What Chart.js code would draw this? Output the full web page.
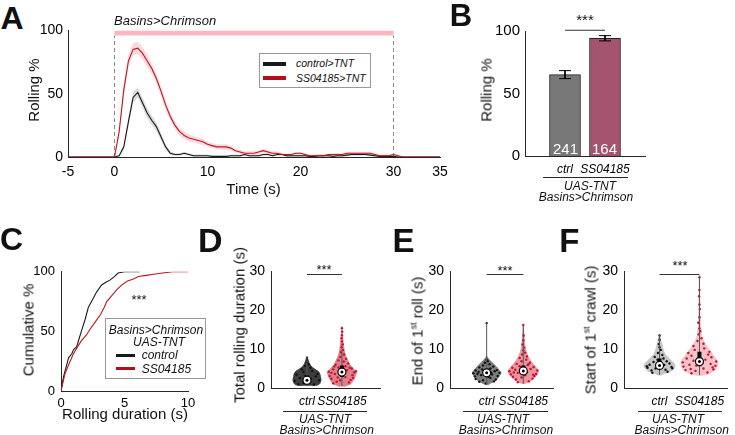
<!DOCTYPE html>
<html>
<head>
<meta charset="utf-8">
<script src="https://cdn.jsdelivr.net/npm/chart.js@4"></script>
<style>
  body { margin: 0; width: 735px; height: 435px; position: relative; overflow: hidden; background: #fff;
         font-family: "Liberation Sans", Arial, Helvetica, sans-serif; font-weight: 400; }
  .pane { position: absolute; }
  .t { position: absolute; white-space: nowrap; line-height: 1; color: #111; font-weight: 400; }
  .rule { position: absolute; height: 1px; background: #262626; }
  .leg { position: absolute; border: 1px solid #999; background: #fff; box-sizing: border-box; }
</style>
</head>
<body>
<script>
// ---- A: rolling probability over time (sampled every 0.5 s, -5..35 s)
const time = Array.from({ length: 81 }, (_, i) => -5 + i * 0.5);
const ctrlRoll = [
  0, 0, 0, 0, 0, 0, 0, 0, 0, 0,
  0, 1, 8, 28, 47, 51, 43, 35, 29, 24,
  16, 8, 3, 2, 2, 3, 2, 1, 1, 1,
  1, 0.5, 0.5, 0.5, 0.5, 1, 1, 1, 2, 1,
  1, 1, 2, 2, 1, 2, 2, 1, 1, 1,
  1, 1, 0.5, 0.5, 1, 1, 1, 0.5, 1, 1,
  1.5, 2, 2, 2, 2, 1.5, 1, 0.5, 0.5, 0.5,
  0.5, 0, 0, 0, 0, 0, 0, 0, 0, 0,
  0
];
const ssRoll = [
  0, 0, 0, 0, 0, 0, 0, 0, 0, 0,
  0, 20, 53, 76, 85, 86, 82, 76, 70, 62,
  52, 41, 32, 25, 20, 17, 15, 14, 13, 12,
  10, 9, 8, 8, 8, 7, 5, 4, 3, 3,
  3, 4, 5, 4, 3, 3, 2, 2, 2, 3,
  3, 2, 1, 1, 1, 1, 2, 2, 2, 2,
  3, 3, 3, 3, 3, 3, 2, 1, 1, 1,
  2, 1, 0, 0, 0, 0, 0, 0, 0, 0,
  0
];
const ctrlSem = [
  0, 0, 0, 0, 0, 0, 0, 0, 0, 0,
  0, 0.5, 2, 4, 4, 4, 4, 4, 3.5, 3.5,
  3, 2, 1.5, 1, 1, 1, 1, 1, 1, 1,
  1, 0.5, 0.5, 0.5, 0.5, 1, 1, 1, 1, 1,
  1, 1, 1, 1, 1, 1, 1, 1, 1, 1,
  1, 1, 0.5, 0.5, 1, 1, 1, 0.5, 1, 1,
  1, 1, 1, 1, 1, 1, 1, 0.5, 0.5, 0.5,
  0.5, 0, 0, 0, 0, 0, 0, 0, 0, 0,
  0
];
const ssSem = [
  0, 0, 0, 0, 0, 0, 0, 0, 0, 0,
  0, 3, 5, 5, 5, 5, 5, 5, 4, 4,
  4, 4, 3, 3, 3, 3, 3, 2.5, 2.5, 2.5,
  2, 2, 2, 2, 2, 2, 1.5, 1.5, 1.5, 1.5,
  1.5, 1.5, 1.5, 1.5, 1.5, 1.5, 1, 1, 1, 1,
  1, 1, 1, 1, 1, 1, 1, 1, 1, 1,
  1, 1, 1, 1, 1, 1, 1, 1, 1, 1,
  1, 0.5, 0, 0, 0, 0, 0, 0, 0, 0,
  0
];
const stimWindow = [0, 30];
const timeTicks = [-5, 0, 10, 20, 30, 35];
const pctTicks = [0, 50, 100];

// ---- B: rolling percentage
const groups = ['ctrl', 'SS04185'];
const rollMean = [65.1, 94.2];
const rollErr = [3.2, 2.1];
const rollN = [241, 164];

// ---- C: cumulative rolling duration
const ctrlDur = [0, 0.2, 0.45, 0.6, 0.84, 1.0, 1.23, 1.4, 1.6, 1.9, 2.15, 2.5, 2.8, 3.2, 3.5, 3.85, 4.2, 4.5, 5.0, 6.2];
const ctrlCum = [0, 12, 22, 28, 31, 35, 37, 43, 50, 60, 70, 77, 83, 89, 91, 93, 96, 99, 100, 100];
const ssDur = [0, 0.3, 0.6, 0.97, 1.3, 1.6, 2.0, 2.3, 2.7, 3.1, 3.4, 3.6, 4.0, 4.4, 4.8, 5.2, 5.7, 6.1, 6.7, 7.3, 8.0, 8.8, 10];
const ssCum = [0, 14, 22, 31, 37, 42, 47, 52, 58, 64, 70, 75, 80, 85, 89, 92, 94, 96, 97, 98, 99, 100, 100];
const durTicks = [0, 5, 10];

// ---- D/E/F: violin outlines (level, half width), box stats [lo, q1, med, q3, hi], dots [x, y]
const secTicks = [0, 10, 20, 30];

const dCtrlY = [0.6, 0.9, 2, 3, 4, 5, 5.6, 6.3, 7, 8];
const dCtrlW = [0.15, 0.34, 0.4, 0.38, 0.35, 0.2, 0.12, 0.07, 0.04, 0];
const dSsY = [0.4, 1, 2, 3, 4, 5, 6, 7, 8, 9, 10, 12, 14, 15.8];
const dSsW = [0.05, 0.24, 0.33, 0.38, 0.41, 0.33, 0.22, 0.17, 0.12, 0.08, 0.06, 0.03, 0.015, 0];
const dCtrlBox = [0.5, 1.2, 2.0, 3.2, 8.0];
const dSsBox = [0.5, 2.8, 4.1, 5.8, 9.8];
const dCtrlDots = [[0.75,1.0],[1.2,0.9],[0.65,1.8],[1.35,2.0],[0.8,2.6],[1.25,3.0],[0.7,3.4],[1.3,3.6],[0.9,4.1],[1.15,4.4],
  [0.85,4.8],[1.1,5.2],[0.95,5.7],[1.05,6.1],[1.0,6.6],[1.0,7.2],[1.0,7.8],[0.9,1.3],[1.1,2.4],[0.95,3.1]];
const dSsDots = [[1.75,1.2],[1.85,1.6],[2.2,1.4],[2.25,2.1],[1.7,2.4],[1.95,2.0],[2.1,2.8],[1.65,3.1],[2.3,3.3],[1.8,3.6],
  [2.0,3.0],[2.35,4.0],[1.62,4.2],[2.15,4.6],[1.75,4.8],[2.28,5.0],[1.9,5.3],[2.1,5.6],[1.82,6.0],[2.18,6.3],
  [2.05,6.8],[1.9,7.1],[2.12,7.5],[1.95,8.0],[2.06,8.6],[1.97,9.2],[2.03,9.8],[1.99,10.5],[2.02,11.2],[2.0,12.0],
  [1.99,12.8],[2.0,13.6],[2.01,14.5],[2.0,15.4],[1.7,3.9],[2.32,2.6],[1.88,2.7],[2.22,5.2],[1.78,5.5],[2.4,4.3]];

const eCtrlY = [0.8, 1.2, 2, 3, 3.9, 4.6, 5.4, 6.6, 7.5, 8.2];
const eCtrlW = [0.02, 0.1, 0.25, 0.34, 0.39, 0.34, 0.27, 0.14, 0.05, 0];
const eSsY = [1.1, 1.6, 2.4, 3.4, 4.4, 5.5, 6.6, 7.6, 8.7, 10, 11.3, 13, 16.3];
const eSsW = [0.02, 0.14, 0.28, 0.37, 0.41, 0.33, 0.23, 0.16, 0.1, 0.06, 0.04, 0.02, 0];
const eCtrlBox = [0.9, 3.0, 3.9, 4.8, 16.7];
const eSsBox = [1.1, 3.5, 4.4, 5.8, 16.3];
const eCtrlDots = [[0.8,1.6],[1.2,1.7],[0.7,2.3],[1.25,2.2],[0.9,2.0],[1.1,2.6],[0.68,3.0],[1.3,3.1],[0.85,3.3],[1.15,3.5],
  [0.64,3.8],[1.35,3.9],[0.78,4.1],[1.22,4.3],[0.7,4.5],[1.28,4.6],[0.88,4.8],[1.1,5.0],[0.8,5.3],[1.18,5.5],
  [0.9,5.8],[1.08,6.1],[0.95,6.5],[1.03,6.9],[1.0,7.3],[0.97,3.6],[1.05,2.9],[0.92,4.4],[1.12,4.0],[0.75,3.6],
  [1.0,16.7],[0.98,1.2]];
const eSsDots = [[1.85,1.5],[2.15,1.7],[1.8,2.2],[2.25,2.4],[1.72,2.9],[2.3,3.1],[1.95,2.7],[1.66,3.5],[2.35,3.6],[1.85,3.9],
  [2.1,4.0],[1.62,4.3],[2.38,4.5],[1.78,4.7],[2.2,4.9],[1.7,5.2],[2.28,5.4],[1.9,5.6],[2.12,5.9],[1.82,6.2],
  [2.18,6.5],[1.95,6.9],[2.08,7.3],[1.9,7.7],[2.1,8.1],[1.97,8.6],[2.05,9.1],[2.0,9.7],[2.02,10.4],[1.98,11.2],
  [2.0,12.3],[2.01,13.5],[2.0,16.2],[2.27,3.4],[1.74,4.0],[2.05,3.3],[1.93,5.0],[2.14,6.1]];

const fCtrlY = [3.3, 3.7, 4.5, 5.8, 7.1, 8.7, 10, 10.8, 12, 13.8];
const fCtrlW = [0.02, 0.12, 0.31, 0.39, 0.29, 0.14, 0.09, 0.07, 0.04, 0];
const fSsY = [3.2, 3.7, 5, 6.6, 8.7, 10.8, 12.9, 15.9, 20, 24, 28.9];
const fSsW = [0.02, 0.25, 0.42, 0.46, 0.33, 0.18, 0.07, 0.03, 0.012, 0.008, 0];
const fCtrlBox = [3.4, 4.9, 5.8, 7.6, 13.8];
const fSsBox = [3.3, 5.6, 6.8, 9.3, 28.9];
const fCtrlDots = [[0.8,4.5],[1.2,4.2],[0.7,5.2],[1.3,5.4],[0.9,5.0],[1.12,5.9],[0.75,6.0],[1.25,6.3],[0.85,6.7],[1.18,6.9],
  [0.95,7.3],[1.1,7.6],[0.88,8.0],[1.07,8.5],[0.96,9.0],[1.03,9.8],[1.0,10.5],[0.98,11.3],[1.0,12.4],[1.0,13.5],
  [0.68,5.6],[1.32,5.1],[0.82,3.9],[1.15,4.7]];
const fSsDots = [[1.8,3.8],[2.2,4.0],[1.65,4.6],[2.35,4.8],[1.9,4.4],[2.1,5.0],[1.6,5.5],[2.4,5.7],[1.75,6.0],[2.28,6.2],
  [1.58,6.6],[2.42,6.8],[1.85,7.0],[2.15,7.3],[1.68,7.6],[2.3,7.9],[1.8,8.3],[2.22,8.6],[1.72,9.0],[2.25,9.3],
  [1.88,9.8],[2.12,10.2],[1.85,10.8],[2.1,11.4],[1.95,12.1],[2.05,12.8],[1.98,13.8],[2.02,14.6],[2.0,15.3],[1.97,16.8],
  [2.0,18.2],[2.01,20.3],[2.0,21.5],[1.99,23.6],[2.0,25.2],[2.0,28.5],[1.92,5.8],[2.08,6.4],[1.78,4.9],[2.33,5.3]];

const sigLevel = 29.2;
const ctrlColor = '#1a1a1a';
const ssColor = '#c0141f';

Chart.defaults.font.family = '"Liberation Sans", Arial, Helvetica, sans-serif';
Chart.defaults.color = '#000';
Chart.defaults.animation = false;
Chart.defaults.plugins.legend.display = false;
Chart.defaults.plugins.tooltip.enabled = false;
Chart.defaults.elements.point.radius = 0;
Chart.defaults.elements.line.borderWidth = 1;

// canvas placed so that the chart area lands on the given rectangle
function panel(area, cfg) {
  const PL = 40, PT = 12, PR = 25, PB = 24;
  const w = area.r - area.l + PL + PR, h = area.b - area.t + PT + PB;
  const box = document.createElement('div');
  box.className = 'pane';
  box.style.left = (area.l - PL) + 'px';
  box.style.top = (area.t - PT) + 'px';
  const cv = document.createElement('canvas');
  cv.width = w; cv.height = h;
  cv.style.width = w + 'px'; cv.style.height = h + 'px';
  box.appendChild(cv);
  document.body.appendChild(box);
  cfg.options.responsive = false;
  cfg.options.devicePixelRatio = 1;
  cfg.options.layout = { padding: { left: 0, top: PT, right: PR, bottom: 0 } };
  cfg.options.scales.x.afterFit = s => { s.height = PB; };
  cfg.options.scales.y.afterFit = s => { s.width = PL; };
  return new Chart(cv, cfg);
}

function axis(min, max, ticks, size, pad, labels) {
  const t = { font: { size }, padding: pad, color: '#000', autoSkip: false, maxRotation: 0, minRotation: 0 };
  if (labels) {
    t.font.style = 'italic';
    t.callback = v => labels[v - 1];
  }
  return {
    type: 'linear', min, max, offset: false,
    grid: { display: false, drawTicks: false },
    border: { display: true, color: '#262626', width: 1 },
    ticks: t,
    afterBuildTicks: s => { s.ticks = ticks.map(v => ({ value: v })); }
  };
}

function label(text, x, y, o = {}) {
  const size = o.size || 15;
  const d = document.createElement('div');
  d.className = 't';
  d.innerHTML = text;
  d.style.fontSize = size + 'px';
  if (o.italic) d.style.fontStyle = 'italic';
  if (o.bold) d.style.fontWeight = '700';
  if (o.color) d.style.color = o.color;
  d.style.left = x + 'px';
  if (o.rot) {
    d.style.top = y + 'px';
    d.style.transform = 'translate(-50%,-50%) rotate(-90deg)';
  } else {
    d.style.top = (y - 0.8465 * size) + 'px';
    if (o.align === 'center') d.style.transform = 'translateX(-50%)';
    if (o.align === 'right') d.style.transform = 'translateX(-100%)';
  }
  document.body.appendChild(d);
}

function rule(x1, x2, y, o = {}) {
  const d = document.createElement('div');
  d.className = 'rule';
  d.style.left = x1 + 'px';
  d.style.top = y + 'px';
  d.style.width = (x2 - x1) + 'px';
  if (o.h) d.style.height = o.h + 'px';
  if (o.color) d.style.background = o.color;
  document.body.appendChild(d);
}

// ---------------- Panel A ----------------
const pts = arr => arr.map((v, i) => ({ x: time[i], y: v }));
const clear = 'rgba(0,0,0,0)';
panel({ l: 68, t: 29, r: 440, b: 157 }, {
  type: 'scatter',
  data: { datasets: [
    { data: pts(ssRoll), showLine: true, borderColor: ssColor, borderWidth: 1.1, order: 0 },
    { data: pts(ctrlRoll), showLine: true, borderColor: ctrlColor, borderWidth: 1.1, order: 1 },
    { data: pts(ssRoll.map((v, i) => v + ssSem[i])), showLine: true, borderColor: clear, fill: '+1',
      backgroundColor: 'rgba(240,150,160,0.35)', order: 2 },
    { data: pts(ssRoll.map((v, i) => Math.max(0, v - ssSem[i]))), showLine: true, borderColor: clear, order: 2 },
    { data: pts(ctrlRoll.map((v, i) => v + ctrlSem[i])), showLine: true, borderColor: clear, fill: '+1',
      backgroundColor: 'rgba(150,150,150,0.35)', order: 3 },
    { data: pts(ctrlRoll.map((v, i) => Math.max(0, v - ctrlSem[i]))), showLine: true, borderColor: clear, order: 3 },
    { data: [{ x: stimWindow[0], y: 98 }, { x: stimWindow[1], y: 98 }], showLine: true,
      borderColor: '#ffb6c1', borderWidth: 5, order: 6 },
    { data: [{ x: stimWindow[0], y: 0 }, { x: stimWindow[0], y: 96 }], showLine: true,
      borderColor: '#888', borderDash: [4, 3], order: 7 },
    { data: [{ x: stimWindow[1], y: 0 }, { x: stimWindow[1], y: 96 }], showLine: true,
      borderColor: '#888', borderDash: [4, 3], order: 7 }
  ] },
  options: { scales: { x: axis(-5, 35, timeTicks, 14, 7), y: axis(0, 100, pctTicks, 14, 5) } }
});
label('A', 0.5, 29.3, { size: 32, bold: true });
label('Basins&gt;Chrimson', 114, 25, { size: 13, italic: true });
label('Rolling %', 32.5, 90, { rot: true });
label('Time (s)', 253.5, 193.5, { align: 'center' });
const legA = document.createElement('div');
legA.className = 'leg';
Object.assign(legA.style, { left: '259px', top: '53px', width: '112px', height: '35px' });
document.body.appendChild(legA);
rule(263, 286, 61.5, { h: 4, color: ctrlColor });
rule(263, 286, 76, { h: 4, color: '#b0101c' });
label('control&gt;TNT', 296, 67, { size: 10.5, italic: true });
label('SS04185&gt;TNT', 296, 81.5, { size: 10.5, italic: true });

// ---------------- Panel B ----------------
const errPts = [];
rollMean.forEach((m, i) => {
  const c = i + 1, hi = m + rollErr[i], lo = m - rollErr[i];
  errPts.push({ x: c - 0.15, y: hi }, { x: c + 0.15, y: hi }, { x: c, y: null },
              { x: c, y: hi }, { x: c, y: lo }, { x: c, y: null },
              { x: c - 0.15, y: lo }, { x: c + 0.15, y: lo }, { x: c, y: null });
});
panel({ l: 525, t: 29, r: 645, b: 156 }, {
  type: 'bar',
  data: { datasets: [
    { type: 'line', data: errPts, borderColor: '#000', borderWidth: 1, pointRadius: 0, spanGaps: false, order: 0 },
    { type: 'line', data: [{ x: 1, y: 100.6 }, { x: 2, y: 100.6 }], borderColor: '#333', borderWidth: 1,
      pointRadius: 0, clip: false, order: 0 },
    { type: 'bar', data: rollMean.map((m, i) => ({ x: i + 1, y: m })),
      backgroundColor: ['#787878', '#a5546f'], borderColor: '#222', borderWidth: 1,
      barThickness: 31, order: 2 }
  ] },
  options: { scales: { x: axis(0, 3, [1, 2], 12, 6, groups), y: axis(0, 100, pctTicks, 15, 5) } }
});
label('B', 449.7, 26.7, { size: 31, bold: true });
label('Rolling %', 485.5, 90, { rot: true });
label('***', 585, 24.7, { size: 15, align: 'center' });
rollN.forEach((n, i) => label(String(n), 565.5 + i * 39, 154, { size: 15, color: '#fff', align: 'center' }));
rule(543, 628, 177);
label('UAS-TNT', 590, 190, { size: 12, italic: true, align: 'center' });
label('Basins&gt;Chrimson', 586, 201.5, { size: 12, italic: true, align: 'center' });

// ---------------- Panel C ----------------
panel({ l: 61, t: 270, r: 188, b: 391 }, {
  type: 'scatter',
  data: { datasets: [
    { data: ssDur.map((x, i) => ({ x, y: ssCum[i] })), showLine: true, borderColor: ssColor, borderWidth: 1.1 },
    { data: ctrlDur.map((x, i) => ({ x, y: ctrlCum[i] })), showLine: true, borderColor: ctrlColor, borderWidth: 1.1 }
  ] },
  options: { scales: { x: axis(0, 10, durTicks, 13, 5), y: axis(0, 100, pctTicks, 13, 6) } }
});
label('C', 0, 250, { size: 32, bold: true });
label('Cumulative %', 28, 330, { rot: true });
label('Rolling duration (s)', 125, 419, { align: 'center' });
label('***', 139, 304.3, { size: 13, align: 'center' });
const legC = document.createElement('div');
legC.className = 'leg';
Object.assign(legC.style, { left: '105px', top: '318px', width: '101px', height: '61px' });
document.body.appendChild(legC);
label('Basins&gt;Chrimson', 156, 334.3, { size: 12, italic: true, align: 'center' });
label('UAS-TNT', 159, 345.7, { size: 12, italic: true, align: 'center' });
rule(115.7, 135, 354, { h: 3.3, color: ctrlColor });
rule(115.7, 135, 366.7, { h: 3.3, color: '#b0101c' });
label('control', 141.7, 359.3, { size: 12, italic: true });
label('SS04185', 141.7, 372.7, { size: 12, italic: true });

// ---------------- Panels D, E, F ----------------
function violin(c, ys, ws, color) {
  const right = ys.map((y, i) => ({ x: c + ws[i], y }));
  const left = ys.map((y, i) => ({ x: c - ws[i], y })).reverse();
  return { data: right.concat(left), showLine: true, fill: 'shape', backgroundColor: color,
           borderColor: color, borderWidth: 1, tension: 0.3, order: 5 };
}
function boxParts(c, st) {
  return [
    { data: [{ x: c, y: st[2] }], pointRadius: 1.5, pointBackgroundColor: '#000', pointBorderWidth: 0, order: 0 },
    { data: [{ x: c, y: st[2] }], pointRadius: 4, pointBackgroundColor: '#fff', pointBorderColor: '#000',
      pointBorderWidth: 1.2, order: 1 },
    { data: [{ x: c, y: st[1] }, { x: c, y: st[3] }], showLine: true, borderColor: '#000', borderWidth: 4, order: 2 },
    { data: [{ x: c, y: st[0] }, { x: c, y: st[4] }], showLine: true, borderColor: '#555', borderWidth: 1, order: 3 }
  ];
}
function dots(list, color) {
  return { data: list.map(([x, y]) => ({ x, y })), pointRadius: 1.2, pointBackgroundColor: color,
           pointBorderWidth: 0, order: 4 };
}
function violinPanel(area, xmin, xmax, v) {
  panel(area, {
    type: 'scatter',
    data: { datasets: [
      { data: [{ x: 1, y: sigLevel }, { x: 2, y: sigLevel }], showLine: true, borderColor: '#333', borderWidth: 1, order: 0 },
      ...boxParts(1, v.ctrlBox), ...boxParts(2, v.ssBox),
      dots(v.ctrlDots, '#111'), dots(v.ssDots, '#c8102e'),
      violin(1, v.ctrlY, v.ctrlW, v.ctrlFill), violin(2, v.ssY, v.ssW, v.ssFill)
    ] },
    options: { scales: { x: axis(xmin, xmax, [1, 2], 12, 6, groups), y: axis(0, 30, secTicks, 14, 6) } }
  });
}

violinPanel({ l: 271, t: 269, r: 380, b: 388 }, -0.03, 3.09, {
  ctrlY: dCtrlY, ctrlW: dCtrlW, ssY: dSsY, ssW: dSsW, ctrlBox: dCtrlBox, ssBox: dSsBox,
  ctrlDots: dCtrlDots, ssDots: dSsDots, ctrlFill: '#3d3d3d', ssFill: '#de808c'
});
violinPanel({ l: 450, t: 269, r: 553, b: 388 }, 0, 2.81, {
  ctrlY: eCtrlY, ctrlW: eCtrlW, ssY: eSsY, ssW: eSsW, ctrlBox: eCtrlBox, ssBox: eSsBox,
  ctrlDots: eCtrlDots, ssDots: eSsDots, ctrlFill: '#7d7d7d', ssFill: '#e8959f'
});
violinPanel({ l: 624, t: 269, r: 727, b: 388 }, 0.11, 2.69, {
  ctrlY: fCtrlY, ctrlW: fCtrlW, ssY: fSsY, ssW: fSsW, ctrlBox: fCtrlBox, ssBox: fSsBox,
  ctrlDots: fCtrlDots, ssDots: fSsDots, ctrlFill: '#c6c6c6', ssFill: '#f4c3c8'
});

label('D', 198, 251.5, { size: 34, bold: true });
label('E', 392.6, 251.7, { size: 33, bold: true });
label('F', 559.3, 251.7, { size: 33, bold: true });
label('Total rolling duration (s)', 238.5, 325, { rot: true });
label('End of 1<sup style="font-size:9px">st</sup> roll (s)', 417, 331, { rot: true });
label('Start of 1<sup style="font-size:9px">st</sup> crawl (s)', 590, 330, { rot: true });
label('***', 324, 273.6, { size: 13, align: 'center' });
label('***', 505, 274.6, { size: 13, align: 'center' });
label('***', 680, 270.3, { size: 13, align: 'center' });

[[283, 367, 325, 326.7], [463, 548, 503, 506], [638, 722, 678, 681.7]].forEach(([x1, x2, c1, c2]) => {
  rule(x1, x2, 410.5);
  label('UAS-TNT', c1, 422.7, { size: 12, italic: true, align: 'center' });
  label('Basins&gt;Chrimson', c2, 434, { size: 12, italic: true, align: 'center' });
});
</script>
</body>
</html>
